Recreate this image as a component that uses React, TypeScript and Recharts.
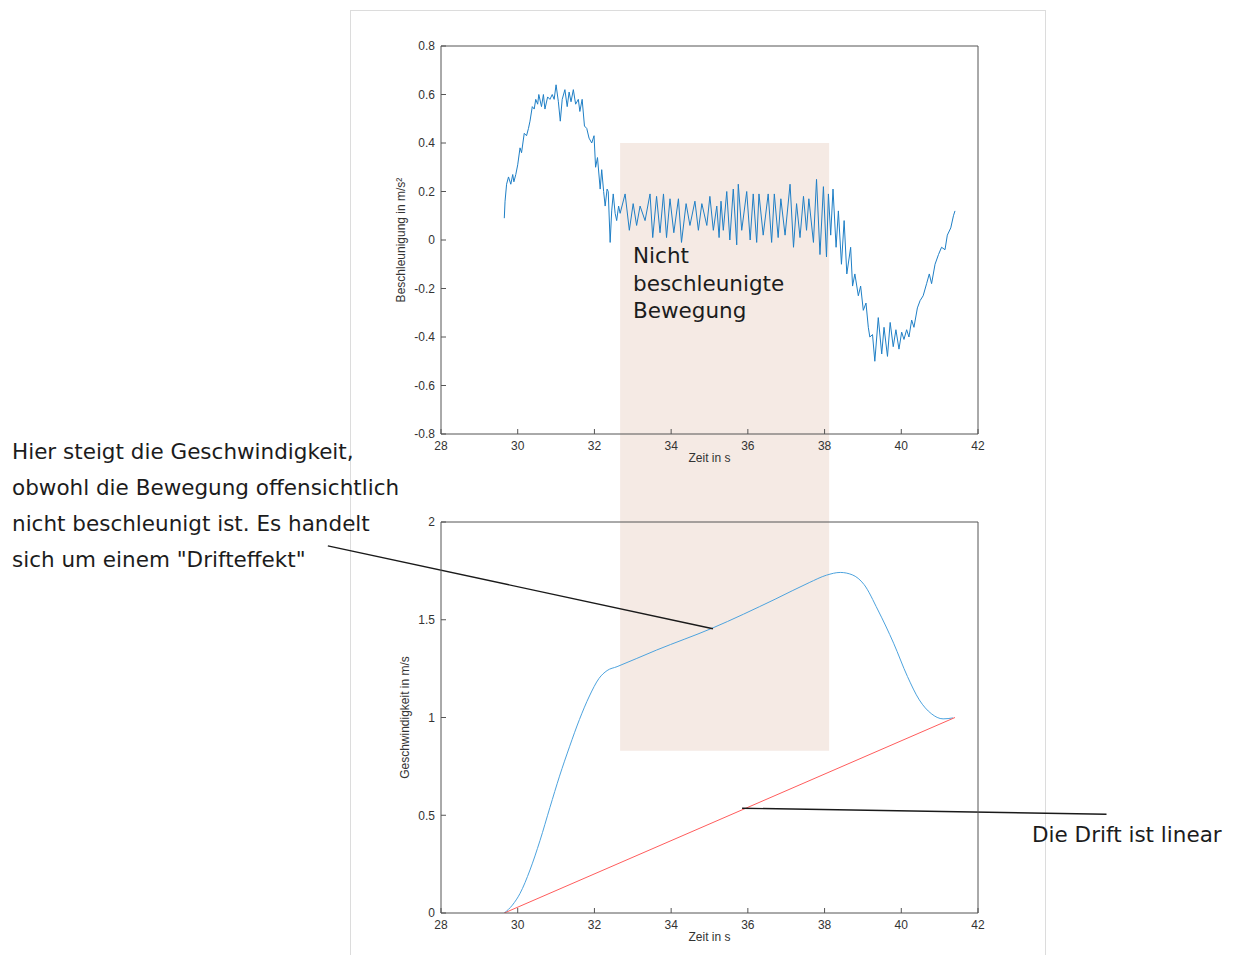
import {
  LineChart,
  Line,
  XAxis,
  YAxis,
  ReferenceArea,
  ReferenceLine,
} from "recharts";

const timeTicks = [28, 30, 32, 34, 36, 38, 40, 42];
const accelTicks = [-0.8, -0.6, -0.4, -0.2, 0, 0.2, 0.4, 0.6, 0.8];
const speedTicks = [0, 0.5, 1, 1.5, 2];

// [time s, acceleration m/s^2]
const accelSamples: [number, number][] = [
  [29.65, 0.09], [29.67, 0.16], [29.71, 0.23], [29.76, 0.26], [29.82, 0.23],
  [29.87, 0.27], [29.9, 0.24], [29.95, 0.27], [30.0, 0.31], [30.06, 0.38],
  [30.1, 0.36], [30.17, 0.44], [30.23, 0.43], [30.28, 0.46], [30.32, 0.49],
  [30.38, 0.55], [30.43, 0.54], [30.47, 0.58], [30.52, 0.56], [30.55, 0.6],
  [30.62, 0.55], [30.67, 0.6], [30.71, 0.54], [30.78, 0.59], [30.84, 0.58],
  [30.9, 0.6], [30.95, 0.58], [31.0, 0.64], [31.06, 0.57], [31.11, 0.49],
  [31.16, 0.58], [31.23, 0.62], [31.29, 0.55], [31.34, 0.61], [31.39, 0.57],
  [31.45, 0.62], [31.51, 0.56], [31.58, 0.58], [31.62, 0.53], [31.68, 0.58],
  [31.74, 0.47], [31.8, 0.46], [31.86, 0.42], [31.93, 0.4], [31.99, 0.43],
  [32.03, 0.3], [32.08, 0.34], [32.15, 0.21], [32.19, 0.29], [32.24, 0.2],
  [32.28, 0.14], [32.33, 0.21], [32.36, 0.2], [32.41, -0.01], [32.45, 0.12],
  [32.49, 0.19], [32.54, 0.11], [32.58, 0.08], [32.63, 0.14], [32.67, 0.11],
  [32.8, 0.19], [32.91, 0.04], [33.01, 0.15], [33.1, 0.06], [33.19, 0.14],
  [33.32, 0.08], [33.45, 0.19], [33.52, 0.01], [33.62, 0.18], [33.71, 0.03],
  [33.8, 0.19], [33.88, 0.01], [33.97, 0.17], [34.07, 0.03], [34.19, 0.17],
  [34.27, -0.01], [34.39, 0.15], [34.49, 0.06], [34.62, 0.16], [34.71, 0.04],
  [34.8, 0.15], [34.93, 0.06], [35.01, 0.18], [35.1, 0.04], [35.19, 0.14],
  [35.25, 0.01], [35.3, 0.16], [35.36, 0.04], [35.45, 0.2], [35.53, 0.0],
  [35.62, 0.21], [35.71, -0.02], [35.75, 0.23], [35.84, 0.04], [35.97, 0.2],
  [36.06, 0.0], [36.14, 0.19], [36.23, -0.01], [36.29, 0.19], [36.4, 0.02],
  [36.53, 0.19], [36.62, -0.01], [36.69, 0.19], [36.79, 0.01], [36.86, 0.17],
  [36.97, 0.02], [37.1, 0.23], [37.19, -0.03], [37.27, 0.15], [37.36, 0.01],
  [37.45, 0.18], [37.53, 0.04], [37.59, 0.17], [37.71, -0.01], [37.79, 0.25],
  [37.88, -0.06], [37.97, 0.22], [38.05, -0.07], [38.1, 0.19], [38.16, 0.02],
  [38.22, 0.21], [38.3, -0.03], [38.36, 0.12], [38.44, -0.1], [38.51, 0.08],
  [38.58, -0.14], [38.68, -0.03], [38.73, -0.19], [38.79, -0.14], [38.88, -0.23],
  [38.94, -0.19], [39.01, -0.29], [39.08, -0.26], [39.14, -0.36], [39.18, -0.4],
  [39.25, -0.39], [39.31, -0.5], [39.4, -0.32], [39.49, -0.47], [39.55, -0.36],
  [39.64, -0.48], [39.71, -0.34], [39.79, -0.44], [39.86, -0.37], [39.94, -0.45],
  [40.01, -0.38], [40.07, -0.41], [40.14, -0.37], [40.2, -0.4], [40.27, -0.33],
  [40.33, -0.36], [40.42, -0.28], [40.49, -0.25], [40.57, -0.23], [40.66, -0.18],
  [40.73, -0.14], [40.79, -0.18], [40.88, -0.1], [40.97, -0.06], [41.05, -0.03],
  [41.14, -0.04], [41.2, 0.02], [41.29, 0.05], [41.36, 0.1], [41.4, 0.12],
];

// [time s, speed m/s], integrated velocity
const speedSamples: [number, number][] = [
  [29.65, 0], [29.86, 0.04], [30.06, 0.1], [30.32, 0.22], [30.58, 0.37],
  [30.84, 0.54], [31.09, 0.7], [31.35, 0.85], [31.61, 0.99], [31.87, 1.11],
  [32.12, 1.2], [32.33, 1.24], [32.59, 1.26], [33.62, 1.345], [35.06, 1.456],
  [36.71, 1.605], [37.6, 1.69], [38.05, 1.728], [38.41, 1.742], [38.72, 1.73],
  [39.03, 1.68], [39.39, 1.55], [39.8, 1.38], [40.16, 1.21], [40.47, 1.09],
  [40.78, 1.02], [41.09, 0.993], [41.35, 0.998],
];

// linear drift
const driftSamples: [number, number][] = [
  [29.65, 0],
  [41.4, 1.0],
];

// the "not accelerated" time window
const calmFrom = 32.67;
const calmTo = 38.12;
const calmAccelTop = 0.4;
const calmSpeedBottom = 0.83;

// callout pointers, in data units of the speed chart
const speedCallout = [
  { x: 25.05, y: 1.878 },
  { x: 35.09, y: 1.454 },
];
const driftCallout = [
  { x: 35.85, y: 0.536 },
  { x: 45.35, y: 0.505 },
];

const accelData = accelSamples.map(([t, a]) => ({ t, a }));
const speedData = speedSamples.map(([t, v]) => ({ t, v }));
const driftData = driftSamples.map(([t, v]) => ({ t, v }));

const AXIS = "#555";
const tickStyle = { fill: "#333", fontSize: 12 };
const axisLabel = { fill: "#333", fontSize: 12 };

const annotation = {
  position: "absolute" as const,
  fontFamily: "DejaVu Sans",
  fontSize: 21.5,
  color: "#1c1c1c",
  whiteSpace: "nowrap" as const,
};

export default function App() {
  return (
    <div
      style={{
        position: "absolute",
        left: 0,
        top: 0,
        width: 1236,
        height: 955,
        overflow: "hidden",
        background: "#fff",
        fontFamily: "Liberation Sans",
      }}
    >
      <div
        style={{
          position: "absolute",
          left: 350,
          top: 10,
          width: 694,
          height: 990,
          border: "1px solid #dcdcdc",
        }}
      />

      <LineChart
        width={1236}
        height={478}
        margin={{ top: 36, right: 248, bottom: 4, left: 361 }}
        style={{ position: "absolute", left: 0, top: 0 }}
      >
        <ReferenceArea
          x1={calmFrom}
          x2={calmTo}
          y1={-1.3}
          y2={calmAccelTop}
          fill="#f5eae4"
          fillOpacity={1}
          stroke="none"
          ifOverflow="visible"
        />
        <XAxis
          dataKey="t"
          type="number"
          domain={[28, 42]}
          ticks={timeTicks}
          allowDataOverflow
          height={40}
          stroke={AXIS}
          tickSize={-5}
          tickMargin={12}
          tick={tickStyle}
          label={{ value: "Zeit in s", position: "insideTop", offset: 19, ...axisLabel }}
        />
        <XAxis
          xAxisId="top"
          orientation="top"
          type="number"
          domain={[28, 42]}
          ticks={timeTicks}
          height={10}
          stroke={AXIS}
          tickSize={-5}
          tick={false}
        />
        <YAxis
          type="number"
          domain={[-0.8, 0.8]}
          ticks={accelTicks}
          allowDataOverflow
          width={80}
          stroke={AXIS}
          tickSize={-5}
          tickMargin={11}
          tick={tickStyle}
          label={{ value: "Beschleunigung in m/s²", angle: -90, position: "center", ...axisLabel }}
        />
        <YAxis
          yAxisId="right"
          orientation="right"
          type="number"
          domain={[-0.8, 0.8]}
          ticks={accelTicks}
          width={10}
          stroke={AXIS}
          tickSize={-5}
          tick={false}
        />
        <Line
          data={accelData}
          dataKey="a"
          type="linear"
          stroke="#1f7fc6"
          strokeWidth={1}
          dot={false}
          isAnimationActive={false}
        />
      </LineChart>

      <LineChart
        width={1236}
        height={477}
        margin={{ top: 34, right: 248, bottom: 2, left: 369 }}
        style={{ position: "absolute", left: 0, top: 478 }}
      >
        <ReferenceArea
          x1={calmFrom}
          x2={calmTo}
          y1={calmSpeedBottom}
          y2={2.4}
          fill="#f5eae4"
          fillOpacity={1}
          stroke="none"
          ifOverflow="visible"
        />
        <XAxis
          dataKey="t"
          type="number"
          domain={[28, 42]}
          ticks={timeTicks}
          allowDataOverflow
          height={40}
          stroke={AXIS}
          tickSize={-5}
          tickMargin={12}
          tick={tickStyle}
          label={{ value: "Zeit in s", position: "insideTop", offset: 19, ...axisLabel }}
        />
        <XAxis
          xAxisId="top"
          orientation="top"
          type="number"
          domain={[28, 42]}
          ticks={timeTicks}
          height={10}
          stroke={AXIS}
          tickSize={-5}
          tick={false}
        />
        <YAxis
          type="number"
          domain={[0, 2]}
          ticks={speedTicks}
          allowDataOverflow
          width={72}
          stroke={AXIS}
          tickSize={-5}
          tickMargin={11}
          tick={tickStyle}
          label={{ value: "Geschwindigkeit in m/s", angle: -90, position: "center", ...axisLabel }}
        />
        <YAxis
          yAxisId="right"
          orientation="right"
          type="number"
          domain={[0, 2]}
          ticks={speedTicks}
          width={10}
          stroke={AXIS}
          tickSize={-5}
          tick={false}
        />
        <Line
          data={speedData}
          dataKey="v"
          type="monotone"
          stroke="#4da3de"
          strokeWidth={1}
          dot={false}
          isAnimationActive={false}
        />
        <Line
          data={driftData}
          dataKey="v"
          type="linear"
          stroke="#ff5c5c"
          strokeWidth={1}
          dot={false}
          isAnimationActive={false}
        />
        <ReferenceLine
          segment={speedCallout}
          stroke="#1a1a1a"
          strokeWidth={1.4}
          ifOverflow="visible"
        />
        <ReferenceLine
          segment={driftCallout}
          stroke="#1a1a1a"
          strokeWidth={1.4}
          ifOverflow="visible"
        />
      </LineChart>

      <div style={{ ...annotation, left: 633, top: 242, lineHeight: "27.5px" }}>
        Nicht
        <br />
        beschleunigte
        <br />
        Bewegung
      </div>
      <div style={{ ...annotation, left: 12, top: 434, lineHeight: "36px" }}>
        Hier steigt die Geschwindigkeit,
        <br />
        obwohl die Bewegung offensichtlich
        <br />
        nicht beschleunigt ist. Es handelt
        <br />
        sich um einem "Drifteffekt"
      </div>
      <div style={{ ...annotation, left: 1032, top: 817, lineHeight: "36px" }}>
        Die Drift ist linear
      </div>
    </div>
  );
}
